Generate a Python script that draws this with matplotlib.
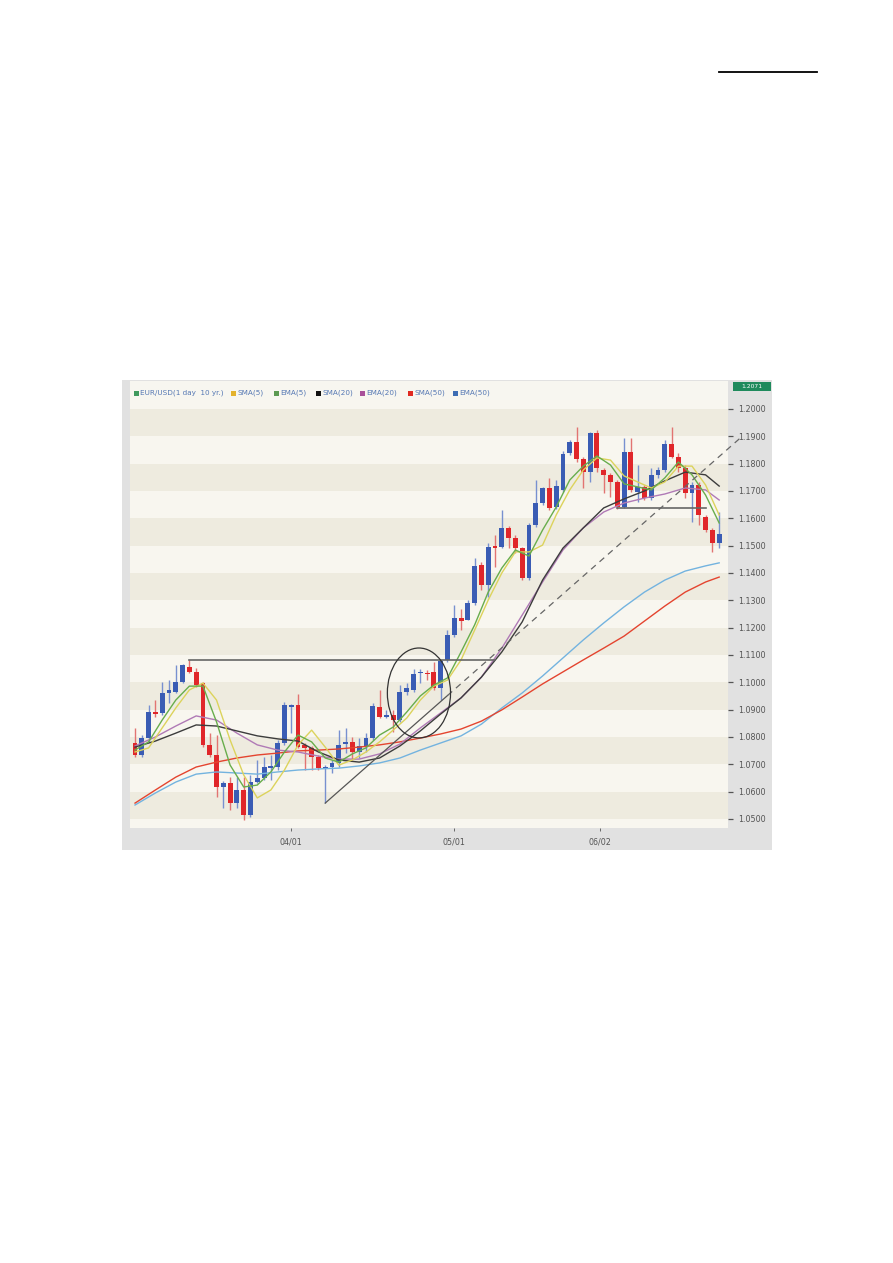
import numpy as np
import matplotlib.pyplot as plt
from matplotlib.patches import Rectangle, Ellipse
from matplotlib.lines import Line2D

# EUR/USD daily candles
opens = [1.0778, 1.0734, 1.0796, 1.0891, 1.0888, 1.0961, 1.0965, 1.1001, 1.1056, 1.1038,
         1.0997, 1.0770, 1.0734, 1.0617, 1.0632, 1.0558, 1.0606, 1.0514, 1.0635, 1.0650,
         1.0686, 1.0690, 1.0778, 1.0910, 1.0917, 1.0770, 1.0760, 1.0727, 1.0683, 1.0690,
         1.0705, 1.0774, 1.0781, 1.0745, 1.0763, 1.0796, 1.0910, 1.0873, 1.0880, 1.0862,
         1.0965, 1.0972, 1.1034, 1.1034, 1.1038, 1.0979, 1.1082, 1.1173, 1.1235, 1.1228,
         1.1290, 1.1429, 1.1356, 1.1499, 1.1495, 1.1565, 1.1528, 1.1491, 1.1382, 1.1576,
         1.1656, 1.1711, 1.1641, 1.1704, 1.1839, 1.1879, 1.1817, 1.1769, 1.1912, 1.1777,
         1.1758, 1.1733, 1.1641, 1.1843, 1.1696, 1.1715, 1.1674, 1.1758, 1.1777, 1.1872,
         1.1824, 1.1784, 1.1693, 1.1722, 1.1605, 1.1557, 1.1510]
highs = [1.0833, 1.0807, 1.0917, 1.0935, 1.1001, 1.1008, 1.1063, 1.1066, 1.1082, 1.1052,
         1.1001, 1.0814, 1.0807, 1.0639, 1.0653, 1.0653, 1.0653, 1.0661, 1.0716, 1.0727,
         1.0734, 1.0789, 1.0928, 1.0920, 1.0957, 1.0778, 1.0767, 1.0734, 1.0697, 1.0716,
         1.0826, 1.0833, 1.0800, 1.0796, 1.0814, 1.0924, 1.0972, 1.0899, 1.0899, 1.0990,
         1.0997, 1.1049, 1.1049, 1.1045, 1.1074, 1.1082, 1.1191, 1.1283, 1.1268, 1.1301,
         1.1455, 1.1440, 1.1510, 1.1539, 1.1630, 1.1572, 1.1539, 1.1495, 1.1583, 1.1740,
         1.1715, 1.1748, 1.1740, 1.1846, 1.1887, 1.1934, 1.1824, 1.1916, 1.1923, 1.1784,
         1.1766, 1.1740, 1.1894, 1.1894, 1.1795, 1.1722, 1.1784, 1.1788, 1.1887, 1.1934,
         1.1839, 1.1795, 1.1733, 1.1733, 1.1612, 1.1565, 1.1623]
lows = [1.0727, 1.0727, 1.0781, 1.0873, 1.0880, 1.0924, 1.0961, 1.0997, 1.1034, 1.0983,
        1.0763, 1.0727, 1.0580, 1.0540, 1.0533, 1.0540, 1.0496, 1.0507, 1.0632, 1.0643,
        1.0643, 1.0679, 1.0770, 1.0814, 1.0760, 1.0679, 1.0679, 1.0679, 1.0558, 1.0668,
        1.0690, 1.0741, 1.0716, 1.0723, 1.0745, 1.0789, 1.0869, 1.0869, 1.0818, 1.0855,
        1.0954, 1.0965, 1.0997, 1.1008, 1.0972, 1.0935, 1.1074, 1.1166, 1.1191, 1.1228,
        1.1283, 1.1338, 1.1312, 1.1422, 1.1491, 1.1491, 1.1473, 1.1374, 1.1374, 1.1568,
        1.1649, 1.1630, 1.1634, 1.1696, 1.1832, 1.1806, 1.1711, 1.1733, 1.1769, 1.1693,
        1.1678, 1.1634, 1.1638, 1.1696, 1.1660, 1.1667, 1.1667, 1.1748, 1.1769, 1.1821,
        1.1769, 1.1674, 1.1587, 1.1576, 1.1550, 1.1477, 1.1491]
closes = [1.0734, 1.0796, 1.0891, 1.0884, 1.0961, 1.0972, 1.1001, 1.1063, 1.1038, 1.0990,
          1.0770, 1.0734, 1.0617, 1.0632, 1.0558, 1.0606, 1.0514, 1.0635, 1.0650, 1.0690,
          1.0694, 1.0778, 1.0917, 1.0917, 1.0763, 1.0760, 1.0727, 1.0686, 1.0690, 1.0705,
          1.0770, 1.0781, 1.0745, 1.0767, 1.0796, 1.0913, 1.0873, 1.0880, 1.0862, 1.0965,
          1.0979, 1.1030, 1.1038, 1.1030, 1.0979, 1.1078, 1.1173, 1.1235, 1.1224, 1.1290,
          1.1426, 1.1356, 1.1495, 1.1491, 1.1565, 1.1528, 1.1491, 1.1382, 1.1576, 1.1656,
          1.1711, 1.1638, 1.1718, 1.1835, 1.1879, 1.1817, 1.1769, 1.1912, 1.1784, 1.1758,
          1.1733, 1.1641, 1.1843, 1.1704, 1.1715, 1.1674, 1.1758, 1.1777, 1.1872, 1.1824,
          1.1784, 1.1693, 1.1722, 1.1612, 1.1557, 1.1510, 1.1543]

# moving averages, sampled from the chart at these candle positions
slow_idx = list(range(0, 85, 3)) + [86]
sma50 = [1.0558, 1.0606, 1.0653, 1.0690, 1.0708, 1.0723, 1.0734, 1.0741, 1.0749, 1.0752,
         1.0756, 1.0763, 1.0771, 1.0782, 1.0796, 1.0811, 1.0829, 1.0858, 1.0899, 1.0946,
         1.0994, 1.1038, 1.1082, 1.1125, 1.1169, 1.1224, 1.1279, 1.1330, 1.1367, 1.1385]
ema50 = [1.0551, 1.0595, 1.0635, 1.0664, 1.0672, 1.0668, 1.0664, 1.0672, 1.0679, 1.0683,
         1.0686, 1.0694, 1.0705, 1.0723, 1.0752, 1.0778, 1.0804, 1.0847, 1.0906, 1.0961,
         1.1023, 1.1089, 1.1155, 1.1217, 1.1276, 1.1330, 1.1374, 1.1407, 1.1426, 1.1437]
sma20 = [1.0763, 1.0785, 1.0814, 1.0844, 1.0840, 1.0822, 1.0804, 1.0793, 1.0785, 1.0745,
         1.0716, 1.0708, 1.0723, 1.0767, 1.0822, 1.0884, 1.0943, 1.1019, 1.1111, 1.1221,
         1.1374, 1.1491, 1.1565, 1.1638, 1.1671, 1.1700, 1.1737, 1.1769, 1.1759, 1.1718]
ema20 = [1.0767, 1.0800, 1.0840, 1.0877, 1.0862, 1.0814, 1.0771, 1.0752, 1.0745, 1.0730,
         1.0719, 1.0719, 1.0738, 1.0774, 1.0833, 1.0888, 1.0943, 1.1019, 1.1125, 1.1246,
         1.1367, 1.1484, 1.1565, 1.1623, 1.1656, 1.1674, 1.1689, 1.1711, 1.1704, 1.1667]

fast_idx = list(range(0, 87, 2))
ema5 = [1.0752, 1.0782, 1.0862, 1.0935, 1.0986, 1.0986, 1.0855, 1.0697, 1.0617, 1.0624,
        1.0672, 1.0745, 1.0807, 1.0782, 1.0723, 1.0708, 1.0738, 1.0760, 1.0807, 1.0836,
        1.0891, 1.0950, 1.0990, 1.1016, 1.1111, 1.1210, 1.1330, 1.1418, 1.1484, 1.1462,
        1.1557, 1.1641, 1.1740, 1.1791, 1.1828, 1.1795, 1.1726, 1.1715, 1.1704, 1.1748,
        1.1806, 1.1759, 1.1685, 1.1583]
sma5 = [1.0745, 1.0760, 1.0833, 1.0906, 1.0972, 1.0997, 1.0935, 1.0789, 1.0661, 1.0577,
        1.0606, 1.0679, 1.0771, 1.0825, 1.0763, 1.0697, 1.0716, 1.0745, 1.0782, 1.0825,
        1.0869, 1.0935, 1.0986, 1.1008, 1.1082, 1.1191, 1.1301, 1.1400, 1.1477, 1.1477,
        1.1502, 1.1612, 1.1704, 1.1777, 1.1821, 1.1813, 1.1755, 1.1733, 1.1711, 1.1733,
        1.1791, 1.1791, 1.1722, 1.1612]

yticks = [1.05, 1.06, 1.07, 1.08, 1.09, 1.10, 1.11, 1.12, 1.13, 1.14, 1.15, 1.16, 1.17, 1.18, 1.19, 1.20]
xtick_pos = [23, 47, 68.5]
xtick_labels = ["04/01", "05/01", "06/02"]

legend_names = ["EUR/USD(1 day  10 yr.)", "SMA(5)", "EMA(5)", "SMA(20)", "EMA(20)", "SMA(50)", "EMA(50)"]
legend_colors = ["#3f9a5e", "#e3b22c", "#5c9a52", "#111111", "#a8509a", "#e02a22", "#3d6db4"]
legend_x = [134, 231, 274, 316, 360, 408, 453]

# annotations drawn on the chart
resist_level = 1.1082
support_level = 1.1638
trend_start = (28, 1.0558)
trend_slope = 0.002186

W, H = 893, 1263
fig = plt.figure(figsize=(W / 100, H / 100), dpi=100)
fig.patch.set_facecolor("white")


def fx(px):
    return px / W


def fy(py):
    return 1 - py / H


# grey frame of the chart widget
fig.patches.append(Rectangle((fx(122), fy(850)), fx(650), 470 / H, transform=fig.transFigure,
                             facecolor="#e1e1e1", edgecolor="none", zorder=-2))
fig.patches.append(Rectangle((fx(130), fy(400)), fx(598), 19 / H, transform=fig.transFigure,
                             facecolor="#f7f6f0", edgecolor="none", zorder=-1))
fig.patches.append(Rectangle((fx(733), fy(391)), fx(38), 9 / H, transform=fig.transFigure,
                             facecolor="#1f8a5c", edgecolor="none", zorder=-1))
fig.text(fx(752), fy(386.5), "1.2071", color="white", fontsize=4.3, ha="center", va="center")

# little rule at the top of the page
fig.add_artist(Line2D([fx(719), fx(817)], [fy(72), fy(72)], color="black", lw=1.3))

# legend strip
for name, col, lx in zip(legend_names, legend_colors, legend_x):
    fig.patches.append(Rectangle((fx(lx), fy(395.5)), fx(4.5), 4.5 / H, transform=fig.transFigure,
                                 facecolor=col, edgecolor="none", zorder=2))
    fig.text(fx(lx + 6.5), fy(393.2), name, color="#5578b4", fontsize=5.2, ha="left", va="center")

ax = fig.add_axes([fx(130), fy(828), fx(598), 428 / H])
ax.set_zorder(1)
ax.set_xlim(-0.74, 87.3)
ax.set_ylim(1.04669, 1.20329)

# striped background
for k in range(-1, 17):
    lo = 1.04 + 0.01 * k
    ax.axhspan(lo, lo + 0.01, color="#f8f6ef" if k % 2 == 0 else "#eeebdf", lw=0, zorder=0)

x = np.arange(len(opens))
o = np.array(opens)
c = np.array(closes)
up = c >= o
body_col = np.where(up, "#3a5cb4", "#e0262a")
wick_col = np.where(up, "#7890d0", "#e27472")

ax.vlines(x, lows, highs, colors=wick_col, lw=1.0, zorder=2)
body_lo = np.minimum(o, c)
body_h = np.maximum(np.abs(c - o), 0.0005)
ax.bar(x, body_h, bottom=body_lo, width=0.72, color=body_col, lw=0, zorder=3)

# moving averages
ax.plot(slow_idx, ema50, color="#73b3df", lw=1.0, zorder=4)
ax.plot(slow_idx, sma50, color="#e4442f", lw=1.0, zorder=4)
ax.plot(slow_idx, ema20, color="#b07ab6", lw=1.0, zorder=4)
ax.plot(slow_idx, sma20, color="#3c3c3c", lw=1.0, zorder=4)
ax.plot(fast_idx, sma5, color="#dcd35c", lw=1.0, zorder=5)
ax.plot(fast_idx, ema5, color="#68ad4c", lw=1.0, zorder=5)

# horizontal resistance / support lines
ax.plot([8, 53], [resist_level, resist_level], color="#666666", lw=1.2, zorder=6)
ax.plot([71, 84], [support_level, support_level], color="#666666", lw=1.2, zorder=6)

# trend line, solid then dashed past the breakout
x0, y0 = trend_start
ax.plot([x0, 46], [y0, y0 + trend_slope * (46 - x0)], color="#555555", lw=0.9, zorder=6)
ax.plot([46, 89.5], [y0 + trend_slope * (46 - x0), y0 + trend_slope * (89.5 - x0)],
        color="#666666", lw=0.9, ls=(0, (5, 4)), zorder=6, clip_on=False)

# circle round the breakout candles
ax.add_patch(Ellipse((41.8, 1.0961), 9.3, 0.0329, fill=False, edgecolor="#333333", lw=0.9, zorder=6))

ax.yaxis.tick_right()
ax.set_yticks(yticks)
ax.set_yticklabels(["%.4f" % v for v in yticks])
ax.set_xticks(xtick_pos)
ax.set_xticklabels(xtick_labels)
ax.tick_params(axis="y", direction="out", length=3.5, width=0.9, color="#555555",
               labelsize=5.8, labelcolor="#555555", pad=4)
ax.tick_params(axis="x", direction="out", length=2.5, width=0.6, color="#555555",
               labelsize=5.8, labelcolor="#555555", pad=4)
for s in ax.spines.values():
    s.set_visible(False)

plt.savefig("out.png", dpi=100)
plt.close()
